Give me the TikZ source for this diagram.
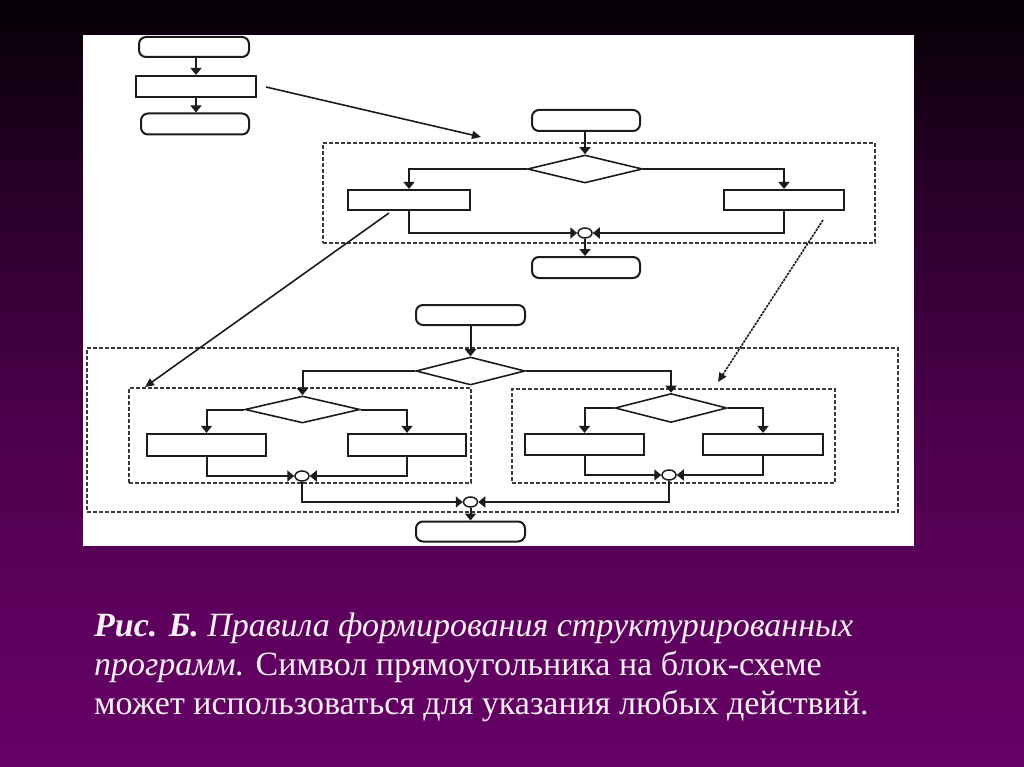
\documentclass[tikz,border=0pt]{standalone}
\usepackage{fontspec}
\setmainfont{Liberation Serif}
\usetikzlibrary{shapes.geometric,arrows.meta}
\definecolor{bgA}{HTML}{050005}
\definecolor{bgB}{HTML}{2A002A}
\definecolor{bgC}{HTML}{480048}
\definecolor{bgD}{HTML}{5C005C}
\definecolor{bgE}{HTML}{660066}
\definecolor{ink}{HTML}{1C1C1C}
\definecolor{frm}{HTML}{3A3A3A}
\definecolor{captxt}{HTML}{F6F0F6}
\pgfdeclareverticalshading{slidebg}{100bp}{color(0bp)=(bgE); color(25bp)=(bgE); color(35.9bp)=(bgD); color(48.9bp)=(bgC); color(62bp)=(bgB); color(75bp)=(bgA); color(100bp)=(bgA)}
\tikzset{
  arr/.style={draw=ink, line width=2pt, -{Triangle[length=7pt,width=11pt]}},
  ptr/.style={draw=ink, line width=1.6pt, -{Triangle[length=9pt,width=8pt]}},
  term/.style={draw=ink, line width=2pt, rounded corners=7pt, minimum height=21pt, minimum width=108pt, inner sep=0pt, fill=white},
  proc/.style={draw=ink, line width=2.2pt, minimum height=21pt, minimum width=120pt, inner sep=0pt, fill=white},
  dec/.style={diamond, draw=ink, line width=1.6pt, inner sep=0pt, fill=white},
  junc/.style={ellipse, draw=ink, line width=1.5pt, minimum width=14pt, minimum height=10pt, inner sep=0pt, fill=white},
  grpbox/.style={draw=frm, line width=2pt, dash pattern=on 4pt off 2pt, inner sep=0pt},
  captext/.style={text=captxt, inner sep=0pt, anchor=base west, font=\fontsize{34}{39}\selectfont}
}
\begin{document}
\begin{tikzpicture}[x=1pt,y=-1pt]
\useasboundingbox (0,0) rectangle (1024,767);
\shade[shading=slidebg] (0,0) rectangle (1024,767);
\fill[white] (83,35) rectangle (914,546);

% ---- frames
\node[grpbox, minimum width=552pt, minimum height=100pt] (mbox) at (599,193) {};
\node[grpbox, minimum width=811pt, minimum height=164pt] (lbox) at (492.5,430) {};
\node[grpbox, minimum width=342pt, minimum height=95pt] (lb1) at (300,435.5) {};
\node[grpbox, minimum width=323pt, minimum height=94pt] (lb2) at (673.5,436) {};

% ---- top-left chain
\node[term, minimum width=110pt, minimum height=20pt] (t1) at (194,47) {};
\node[proc] (p1) at (196,86.5) {};
\node[term] (t2) at (195,124) {};
\draw[arr] (p1.north |- t1.south) -- (p1.north);
\draw[arr] (p1.south) -- (p1.south |- t2.north);

% ---- middle block
\node[term] (mt1) at (586,120.5) {};
\node[dec, minimum width=115pt, minimum height=28pt] (md) at (585,169) {};
\node[proc, minimum width=122pt, minimum height=20pt] (mp1) at (409,200) {};
\node[proc, minimum height=20pt] (mp2) at (784,200) {};
\node[junc] (mj) at (585,233) {};
\node[term] (mt2) at (586,267.5) {};
\draw[arr] (md.north |- mt1.south) -- (md.north);
\draw[arr] (md.west) -| (mp1.north);
\draw[arr] (md.east) -| (mp2.north);
\draw[arr] (mp1.south) |- (mj.west);
\draw[arr] (mp2.south) |- (mj.east);
\draw[arr] (mj.south) -- (mj.south |- mt2.north);

% ---- lower block
\node[term, minimum width=109pt, minimum height=20pt] (lt1) at (470.5,315) {};
\node[dec, minimum width=109pt, minimum height=28pt] (ld) at (470.5,371) {};
\node[dec, minimum width=115pt, minimum height=27pt] (ld1) at (302.5,409.5) {};
\node[proc, minimum width=119pt, minimum height=22pt] (lp1) at (206.5,445) {};
\node[proc, minimum width=118pt, minimum height=22pt] (lp2) at (407,445) {};
\node[junc] (lj1) at (302,476) {};
\node[dec, minimum width=112pt, minimum height=29pt] (ld2) at (671,408) {};
\node[proc, minimum width=119pt] (lp3) at (584.5,444.5) {};
\node[proc] (lp4) at (763,444.5) {};
\node[junc] (lj2) at (669,475) {};
\node[junc] (lj) at (470.5,502) {};
\node[term, minimum width=109pt, minimum height=20pt] (lt2) at (470.5,531.5) {};
\draw[arr] (ld.north |- lt1.south) -- (ld.north);
\draw[arr] (ld.west) -| (ld1.north);
\draw[arr] (ld.east) -| (ld2.north);
\draw[arr] (ld1.west) -| (lp1.north);
\draw[arr] (ld1.east) -| (lp2.north);
\draw[arr] (lp1.south) |- (lj1.west);
\draw[arr] (lp2.south) |- (lj1.east);
\draw[arr] (ld2.west) -| (lp3.north);
\draw[arr] (ld2.east) -| (lp4.north);
\draw[arr] (lp3.south) |- (lj2.west);
\draw[arr] (lp4.south) |- (lj2.east);
\draw[arr] (lj1.south) |- (lj.west);
\draw[arr] (lj2.south) |- (lj.east);
\draw[arr] (lj.south) -- (lj.south |- lt2.north);

% ---- long pointers
\coordinate (a1s) at (266,87);
\coordinate (a1e) at (481,137);
\coordinate (a2s) at (389,213);
\coordinate (a2e) at (145,387);
\coordinate (a3s) at (823,220);
\coordinate (a3e) at (718,382);
\draw[ptr] (a1s) -- (a1e);
\draw[ptr] (a2s) -- (a2e);
\draw[ptr, dash pattern=on 2.5pt off 1pt] (a3s) -- (a3e);

% ---- caption
\node[captext] (c1) at (94,636) {\textbf{\textit{Рис. Б.}} \textit{Правила формирования структурированных}};
\node[captext] (c2) at (94,675) {\textit{программ.} Символ прямоугольника на блок-схеме};
\node[captext] (c3) at (94,714) {может использоваться для указания любых действий.};
\end{tikzpicture}
\end{document}
